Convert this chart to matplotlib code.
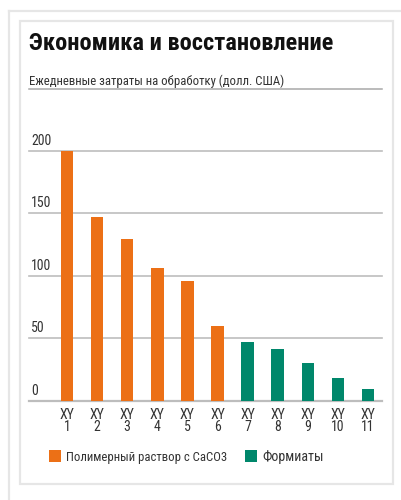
import matplotlib
matplotlib.use('Agg')
import matplotlib.pyplot as plt
from matplotlib import font_manager as fm
from matplotlib.lines import Line2D
from matplotlib.patches import Rectangle

W, H = 402, 500

labels = ['XY\n1', 'XY\n2', 'XY\n3', 'XY\n4', 'XY\n5', 'XY\n6',
          'XY\n7', 'XY\n8', 'XY\n9', 'XY\n10', 'XY\n11']
costs = [200, 147, 129, 106, 96, 60, 47, 41, 30, 18, 9]
groups = ['polymer'] * 6 + ['formate'] * 5
yticks = [0, 50, 100, 150, 200]

title = 'Экономика и восстановление'
subtitle = 'Ежедневные затраты на обработку (долл. США)'
legend_names = {'polymer': 'Полимерный раствор с CaCO3', 'formate': 'Формиаты'}
colors = {'polymer': '#ec7016', 'formate': '#00876b'}

# pick the narrowest sans available
names = {f.name: f for f in fm.fontManager.ttflist}
stretches = {(f.name, f.stretch) for f in fm.fontManager.ttflist}
family, stretch = 'Roboto', 'normal'
for cand in ['Roboto Condensed', 'Liberation Sans Narrow', 'Open Sans Condensed',
             'Noto Sans Condensed', 'DejaVu Sans Condensed']:
    if cand in names:
        family = cand
        break
else:
    for n, s in stretches:
        if n == 'DejaVu Sans' and s in ('condensed', 'semi-condensed', 600, 700):
            family, stretch = 'DejaVu Sans', 'condensed'
            break
plt.rcParams['font.family'] = [family, 'DejaVu Sans']
plt.rcParams['font.stretch'] = stretch


def fx(px):
    return px / W


def fy(py):
    return 1 - py / H


def fit(t, width_px, grow=False):
    # scale a text so it spans about width_px
    r = fig.canvas.get_renderer()
    w = t.get_window_extent(r).width
    if w > width_px or grow:
        t.set_fontsize(t.get_fontsize() * width_px / w)


fig = plt.figure(figsize=(W / 100, H / 100), dpi=100)
fig.patch.set_facecolor('white')

# frame lines around the graphic
frame = '#e6e6e6'
fig.add_artist(Line2D([fx(9), fx(9)], [fy(11), fy(500)], color=frame, lw=1.6))
fig.add_artist(Line2D([fx(9), fx(402)], [fy(11), fy(11)], color=frame, lw=1.6))
fig.add_artist(Rectangle((fx(20), fy(483.5)), fx(393) - fx(20), fy(21) - fy(483.5),
                         fill=False, ec=frame, lw=1.6))

t = fig.text(fx(29), fy(50), title, fontsize=18.5, fontweight='bold', color='#111111',
             ha='left', va='baseline')
fit(t, 304)
t = fig.text(fx(29), fy(84.5), subtitle, fontsize=8.3, color='#333333',
             ha='left', va='baseline')
fit(t, 254, grow=True)
fig.add_artist(Line2D([fx(29), fx(382)], [fy(88.5), fy(88.5)], color='#a8a8a8', lw=1.1))

# plot area: 0 at y=400.7, 200 at y=150.7
ax = fig.add_axes([fx(29), fy(400.7), fx(382) - fx(29), fy(150.7) - fy(400.7)])
x = list(range(len(costs)))
ax.bar(x, costs, width=0.415, color=[colors[g] for g in groups], zorder=3, clip_on=False)
ax.set_xlim(-1.262, 10.465)
ax.set_ylim(0, 200)

for v in yticks:
    ax.axhline(v, color='#bdbdbd', lw=1.2 if v else 1.6, zorder=1, clip_on=False)
    ax.text(0.006, v + 2.5, str(v), transform=ax.get_yaxis_transform(),
            fontsize=10, color='#333333', ha='left', va='bottom')

for s in ax.spines.values():
    s.set_visible(False)
ax.set_yticks([])
ax.set_xticks(x)
ax.set_xticklabels(labels, fontsize=10, color='#333333', linespacing=0.85)
ax.tick_params(axis='x', length=0, pad=5)

# legend
for key, sx, span in (('polymer', 49, 161), ('formate', 245, 65)):
    fig.add_artist(Rectangle((fx(sx), fy(461.5)), fx(12), fy(0) - fy(12),
                             color=colors[key], lw=0))
    t = fig.text(fx(sx + 17), fy(460.5), legend_names[key], fontsize=10, color='#333333',
                 ha='left', va='baseline')
    fit(t, span)

fig.savefig('out.png', dpi=100)
